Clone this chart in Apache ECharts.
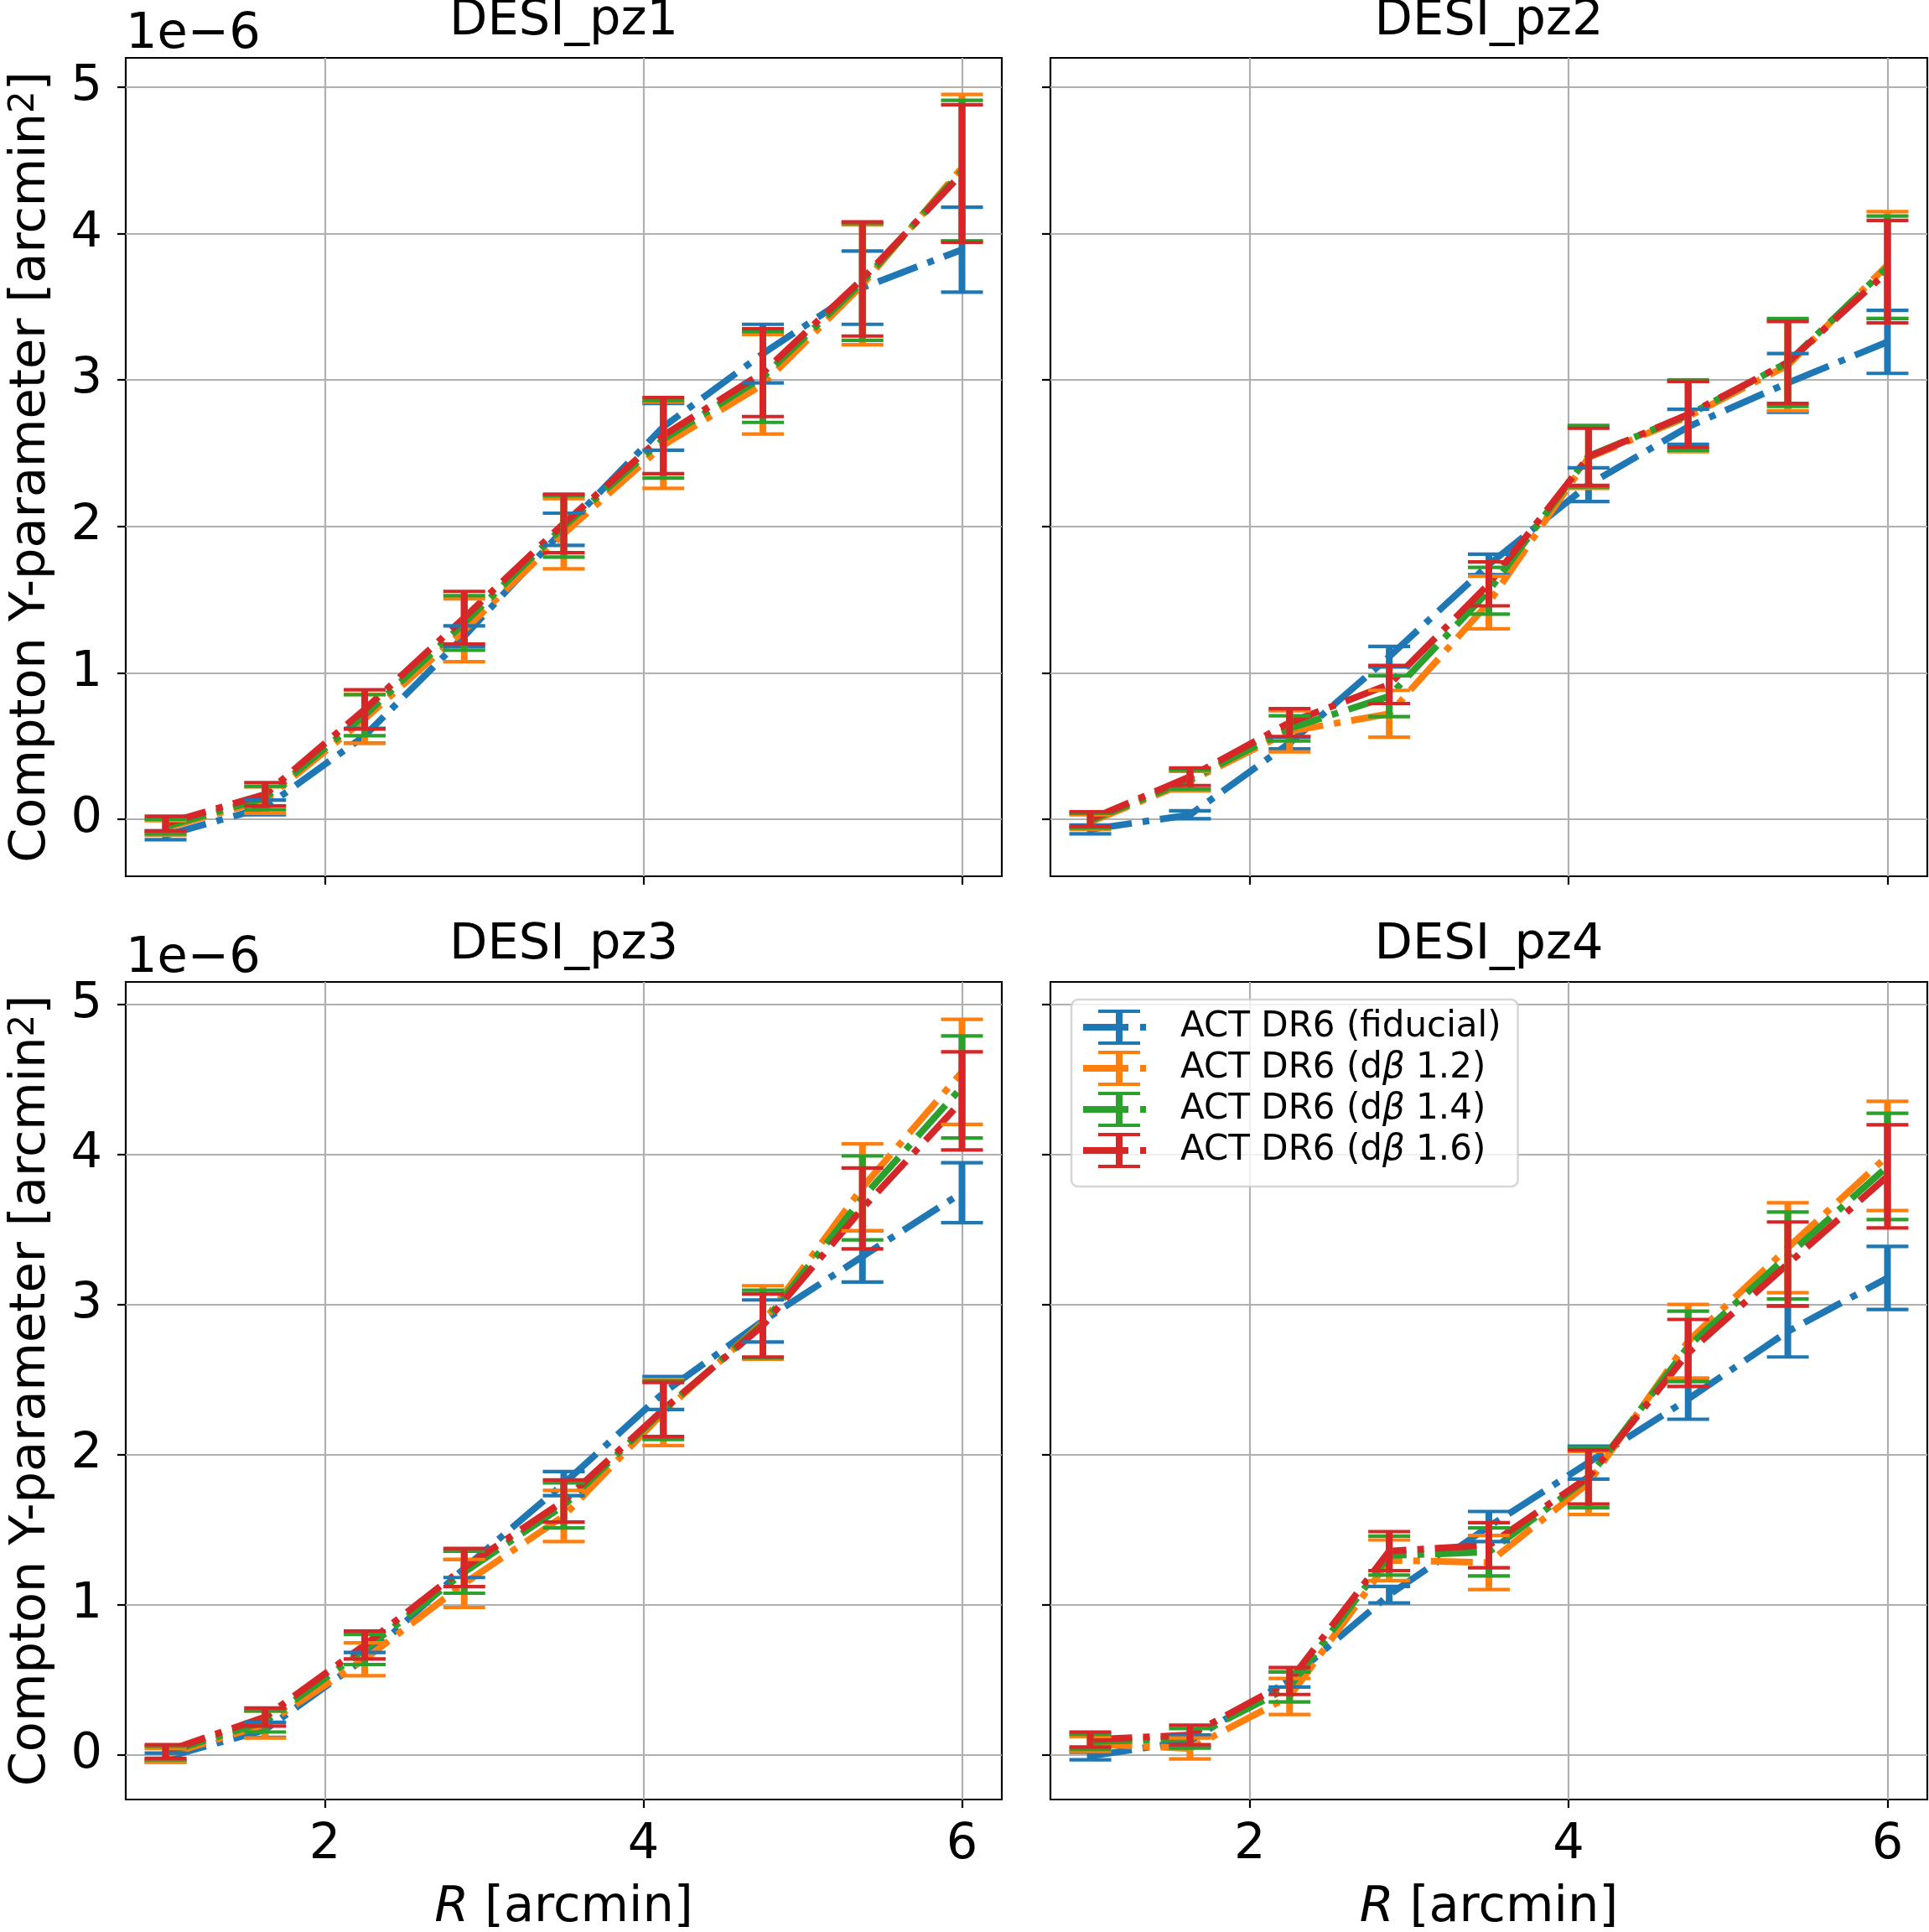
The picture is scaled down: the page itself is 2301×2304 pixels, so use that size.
<!DOCTYPE html>
<html>
<head>
<meta charset="utf-8">
<title>DESI pz - Compton Y</title>
<script src="https://cdn.jsdelivr.net/npm/echarts@6/dist/echarts.min.js"></script>
<style>
    html, body { margin: 0; padding: 0; background: #fff; }
    #main { width: 2301px; height: 2304px; }
</style>
</head>
<body>
<div id="main"></div>
<script>
// 横轴：孔径半径 R [arcmin]
var R = [1, 1.625, 2.25, 2.875, 3.5, 4.125, 4.75, 5.375, 6];
var xTicks = [2, 4, 6];
var yTicks = [0, 1, 2, 3, 4, 5];
var panelTitles = ['DESI_pz1', 'DESI_pz2', 'DESI_pz3', 'DESI_pz4'];
var seriesNames = ['ACT DR6 (fiducial)', 'ACT DR6 (dβ 1.2)', 'ACT DR6 (dβ 1.4)', 'ACT DR6 (dβ 1.6)'];

// DESI_pz1 (单位 1e-6 arcmin^2)
var pz1Fid    = [-0.11, 0.08, 0.57, 1.25, 1.98, 2.68, 3.18, 3.63, 3.89];
var pz1FidErr = [0.03, 0.05, 0.05, 0.07, 0.11, 0.16, 0.20, 0.25, 0.29];
var pz1B12    = [-0.06, 0.13, 0.685, 1.29, 1.95, 2.555, 2.97, 3.65, 4.45];
var pz1B12Err = [0.05, 0.09, 0.167, 0.215, 0.24, 0.295, 0.34, 0.41, 0.50];
var pz1B14    = [-0.05, 0.145, 0.71, 1.34, 2.00, 2.595, 3.02, 3.67, 4.43];
var pz1B14Err = [0.05, 0.08, 0.14, 0.186, 0.21, 0.265, 0.31, 0.40, 0.48];
var pz1B16    = [-0.03, 0.17, 0.75, 1.376, 2.02, 2.62, 3.05, 3.69, 4.41];
var pz1B16Err = [0.05, 0.08, 0.134, 0.18, 0.20, 0.26, 0.30, 0.39, 0.47];

// DESI_pz2
var pz2Fid    = [-0.07, 0.03, 0.52, 1.11, 1.74, 2.285, 2.68, 2.98, 3.26];
var pz2FidErr = [0.03, 0.027, 0.04, 0.07, 0.07, 0.115, 0.12, 0.20, 0.215];
var pz2B12    = [-0.02, 0.26, 0.60, 0.72, 1.48, 2.47, 2.75, 3.10, 3.785];
var pz2B12Err = [0.05, 0.067, 0.14, 0.16, 0.18, 0.21, 0.24, 0.31, 0.365];
var pz2B14    = [-0.01, 0.27, 0.62, 0.84, 1.56, 2.48, 2.76, 3.12, 3.77];
var pz2B14Err = [0.05, 0.065, 0.086, 0.14, 0.16, 0.21, 0.24, 0.30, 0.35];
var pz2B16    = [0.00, 0.29, 0.66, 0.92, 1.607, 2.475, 2.765, 3.12, 3.74];
var pz2B16Err = [0.05, 0.06, 0.095, 0.13, 0.15, 0.195, 0.225, 0.28, 0.35];

// DESI_pz3
var pz3Fid    = [-0.02, 0.165, 0.64, 1.24, 1.806, 2.41, 2.89, 3.32, 3.745];
var pz3FidErr = [0.03, 0.05, 0.04, 0.06, 0.08, 0.11, 0.14, 0.17, 0.20];
var pz3B12    = [-0.005, 0.20, 0.635, 1.14, 1.59, 2.28, 2.88, 3.78, 4.55];
var pz3B12Err = [0.045, 0.09, 0.11, 0.16, 0.17, 0.22, 0.245, 0.29, 0.35];
var pz3B14    = [0.01, 0.22, 0.70, 1.215, 1.66, 2.295, 2.87, 3.71, 4.45];
var pz3B14Err = [0.045, 0.07, 0.10, 0.14, 0.15, 0.195, 0.225, 0.28, 0.34];
var pz3B16    = [0.02, 0.25, 0.73, 1.246, 1.69, 2.30, 2.86, 3.64, 4.357];
var pz3B16Err = [0.045, 0.06, 0.093, 0.127, 0.14, 0.18, 0.21, 0.27, 0.327];

// DESI_pz4
var pz4Fid    = [-0.01, 0.09, 0.50, 1.065, 1.52, 1.946, 2.37, 2.82, 3.177];
var pz4FidErr = [0.025, 0.04, 0.05, 0.055, 0.10, 0.11, 0.135, 0.17, 0.21];
var pz4B12    = [0.07, 0.04, 0.387, 1.295, 1.28, 1.81, 2.755, 3.378, 3.99];
var pz4B12Err = [0.05, 0.07, 0.12, 0.135, 0.18, 0.21, 0.245, 0.30, 0.364];
var pz4B14    = [0.085, 0.108, 0.45, 1.326, 1.35, 1.845, 2.72, 3.326, 3.92];
var pz4B14Err = [0.05, 0.065, 0.10, 0.13, 0.16, 0.20, 0.235, 0.29, 0.354];
var pz4B16    = [0.10, 0.13, 0.49, 1.356, 1.395, 1.85, 2.677, 3.27, 3.854];
var pz4B16Err = [0.05, 0.065, 0.09, 0.13, 0.15, 0.18, 0.223, 0.28, 0.344];

var panelVals = [
    [pz1Fid, pz1B12, pz1B14, pz1B16],
    [pz2Fid, pz2B12, pz2B14, pz2B16],
    [pz3Fid, pz3B12, pz3B14, pz3B16],
    [pz4Fid, pz4B12, pz4B14, pz4B16]
];
var panelErrs = [
    [pz1FidErr, pz1B12Err, pz1B14Err, pz1B16Err],
    [pz2FidErr, pz2B12Err, pz2B14Err, pz2B16Err],
    [pz3FidErr, pz3B12Err, pz3B14Err, pz3B16Err],
    [pz4FidErr, pz4B12Err, pz4B14Err, pz4B16Err]
];

var FONT = 'DejaVu Sans';
var FS = 59;
var LFS = 42;
var colors = ['#1f77b4', '#ff7f0e', '#2ca02c', '#d62728'];
var CAP = 25;

var myChart = echarts.init(document.getElementById('main'), null, {renderer: 'canvas'});

// 四个子图的位置
var gridBoxes = [
    {left: 150, top: 69, width: 1045, height: 976},
    {left: 1253, top: 69, width: 1046, height: 976},
    {left: 150, top: 1171, width: 1045, height: 975},
    {left: 1253, top: 1171, width: 1046, height: 975}
];
// 每一行共享 y 轴范围
var yRange = [[-0.39, 5.20], [-0.39, 5.20], [-0.30, 5.15], [-0.30, 5.15]];

// 误差棒
function renderErrBar(params, api) {
    var x = api.value(0);
    var lo = api.coord([x, api.value(1)]);
    var hi = api.coord([x, api.value(2)]);
    var c = api.visual('color');
    return {
        type: 'group',
        children: [
            {type: 'line', shape: {x1: lo[0], y1: lo[1], x2: hi[0], y2: hi[1]}, style: {stroke: c, lineWidth: 8}},
            {type: 'line', shape: {x1: hi[0] - CAP, y1: hi[1], x2: hi[0] + CAP, y2: hi[1]}, style: {stroke: c, lineWidth: 4.2}},
            {type: 'line', shape: {x1: lo[0] - CAP, y1: lo[1], x2: lo[0] + CAP, y2: lo[1]}, style: {stroke: c, lineWidth: 4.2}}
        ]
    };
}

function legendLabel(name) {
    var k = name.indexOf('β');
    if (k < 0) {
        return '{s|}{t|' + name + '}';
    }
    return '{s|}{t|' + name.slice(0, k) + '}{i|β}{t|' + name.slice(k + 1) + '}';
}

var grids = [], xAxes = [], yAxes = [], series = [], graphics = [];

for (var p = 0; p < 4; p++) {
    var box = gridBoxes[p];
    grids.push({
        left: box.left, top: box.top, width: box.width, height: box.height,
        show: true, borderColor: '#000', borderWidth: 2.2, backgroundColor: 'transparent',
        containLabel: false, outerBoundsMode: 'none'
    });
    var bottomRow = p >= 2;
    var leftCol = p % 2 === 0;
    xAxes.push({
        type: 'value', gridIndex: p, min: 0.75, max: 6.25,
        axisLine: {show: false, onZero: false},
        axisTick: {show: true, inside: false, length: 10, customValues: xTicks, lineStyle: {color: '#000', width: 2.2}},
        axisLabel: {show: bottomRow, customValues: xTicks, margin: 25, color: '#000', fontSize: FS, fontFamily: FONT},
        splitLine: {show: true, lineStyle: {color: '#b0b0b0', width: 2.2}},
        name: bottomRow ? '{i|R} [arcmin]' : '',
        nameLocation: 'middle', nameGap: 100,
        nameTextStyle: {
            color: '#000', fontSize: FS, fontFamily: FONT,
            rich: {i: {fontStyle: 'italic', fontSize: FS, fontFamily: FONT, color: '#000'}}
        }
    });
    yAxes.push({
        type: 'value', gridIndex: p, min: yRange[p][0], max: yRange[p][1],
        axisLine: {show: false, onZero: false},
        axisTick: {show: true, inside: false, length: 10, customValues: yTicks, lineStyle: {color: '#000', width: 2.2}},
        axisLabel: {show: leftCol, customValues: yTicks, margin: 28, color: '#000', fontSize: FS, fontFamily: FONT},
        splitLine: {show: true, lineStyle: {color: '#b0b0b0', width: 2.2}},
        name: leftCol ? '{n|Compton Y-parameter [arcmin}{sup|2}{n|]}' : '',
        nameLocation: 'middle', nameRotate: 90, nameGap: 83,
        nameTextStyle: {
            color: '#000', fontSize: FS, fontFamily: FONT,
            rich: {
                n: {fontSize: FS, fontFamily: FONT, color: '#000'},
                sup: {fontSize: 42, fontFamily: FONT, color: '#000', verticalAlign: 'top'}
            }
        }
    });

    // 折线 (点划线)
    for (var k = 0; k < 4; k++) {
        var vals = panelVals[p][k];
        series.push({
            type: 'line', name: seriesNames[k], xAxisIndex: p, yAxisIndex: p,
            data: R.map(function (x, i) { return [x, vals[i]]; }),
            symbol: 'none', showSymbol: false, silent: true, animation: false, z: 2,
            itemStyle: {color: colors[k]},
            lineStyle: {color: colors[k], width: 8, type: [50, 13, 8, 13], cap: 'butt', join: 'round'}
        });
    }
    // 误差棒
    for (var k2 = 0; k2 < 4; k2++) {
        var v = panelVals[p][k2], e = panelErrs[p][k2];
        series.push({
            type: 'custom', name: seriesNames[k2], xAxisIndex: p, yAxisIndex: p,
            data: R.map(function (x, i) { return [x, v[i] - e[i], v[i] + e[i]]; }),
            encode: {x: 0, y: [1, 2]},
            renderItem: renderErrBar, silent: true, animation: false, z: 3,
            itemStyle: {color: colors[k2]}
        });
    }

    // 子图标题
    graphics.push({
        type: 'text', x: box.left + box.width / 2, y: bottomRow ? 1128 : 26,
        style: {text: panelTitles[p], fontSize: FS, fontFamily: FONT, fill: '#000',
            align: 'center', verticalAlign: 'middle', textAlign: 'center', textVerticalAlign: 'middle'}
    });
    if (leftCol) {
        graphics.push({
            type: 'text', x: box.left, y: bottomRow ? 1144 : 42,
            style: {text: '1e\u22126', fontSize: FS, fontFamily: FONT, fill: '#000',
                align: 'left', verticalAlign: 'middle', textAlign: 'left', textVerticalAlign: 'middle'}
        });
    }
}

// 图例图标: 误差棒 + 点划线
var errIcon = 'path://M18,0H68V4H18Z M18,38H68V42H18Z M39,0H47V42H39Z M0,17H54V25H0Z M68,17H75V25H68Z';

var option = {
    backgroundColor: '#fff',
    animation: false,
    textStyle: {fontFamily: FONT},
    grid: grids,
    xAxis: xAxes,
    yAxis: yAxes,
    legend: {
        orient: 'vertical', left: 1278, top: 1192,
        padding: [12, 20, 22, 14], itemGap: 7, itemWidth: 75, itemHeight: 42,
        backgroundColor: 'rgba(255,255,255,0.8)', borderColor: 'rgba(204,204,204,0.8)',
        borderWidth: 2.5, borderRadius: 8, selectedMode: false,
        data: seriesNames.map(function (n, k) {
            return {name: n, icon: errIcon, itemStyle: {color: colors[k], borderWidth: 0}};
        }),
        formatter: legendLabel,
        textStyle: {
            color: '#000', fontSize: LFS, fontFamily: FONT,
            rich: {
                s: {width: 36},
                t: {fontSize: LFS, fontFamily: FONT, color: '#000'},
                i: {fontSize: LFS, fontFamily: FONT, fontStyle: 'italic', color: '#000'}
            }
        }
    },
    graphic: graphics,
    series: series
};

myChart.setOption(option);
</script>
</body>
</html>
